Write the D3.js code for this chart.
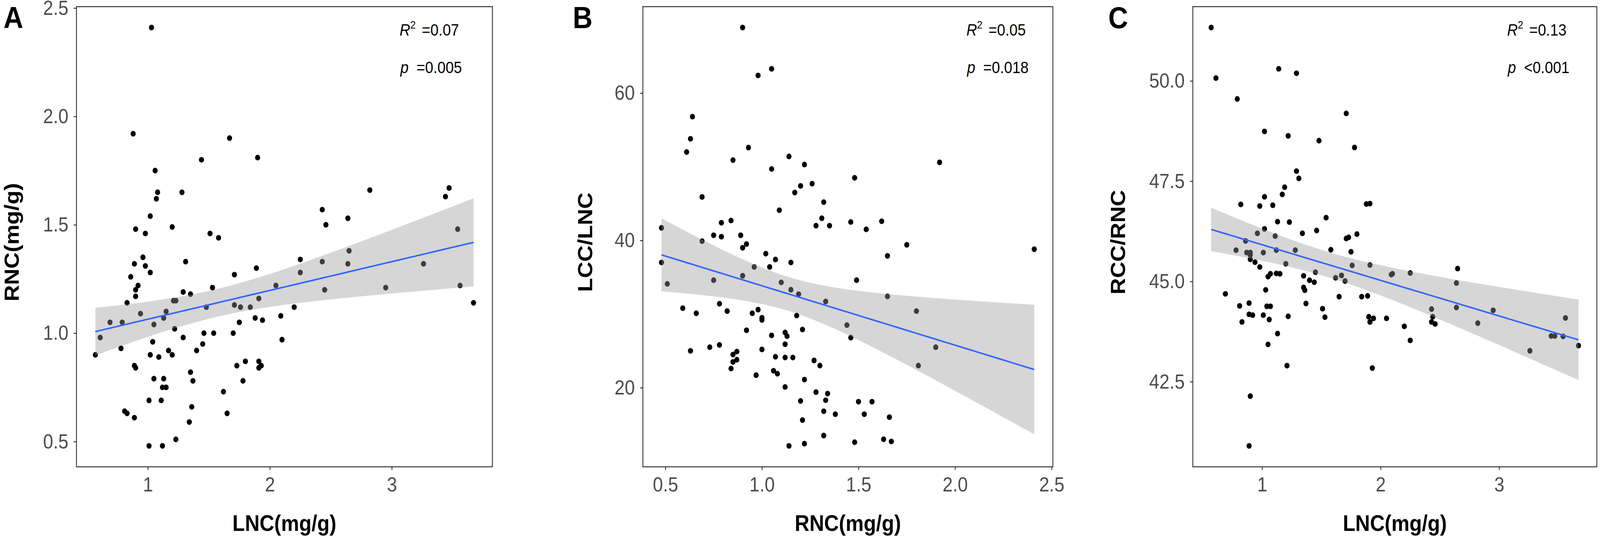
<!DOCTYPE html>
<html>
<head>
<meta charset="utf-8">
<script src="https://cdn.jsdelivr.net/npm/d3@7"></script>
<style>
  html, body { margin: 0; padding: 0; width: 100%; height: 100%; overflow: hidden; background: #fff; }
  #chart { width: 100vw; height: 100vh; }
  svg { display: block; font-family: "Liberation Sans", Arial, sans-serif; }
</style>
</head>
<body>
<div id="chart"></div>
<script>
// ---- data (n = 108 samples) ----
const lncA = [1.03,0.88,1.67,1.44,1.90,1.06,1.08,1.28,1.07,1.02,1.20,0.90,0.98,1.51,1.58,0.96,1.31,0.89,0.98,1.02,
  0.86,0.92,0.90,0.90,0.83,0.94,1.05,1.29,1.35,1.21,1.23,1.15,1.13,1.22,1.29,1.04,1.02,1.09,1.17,1.20,
  1.05,1.13,1.12,1.15,1.11,1.01,0.89,0.90,0.78,0.81,0.83,0.89,1.01,1.12,1.23,1.34,1.36,1.35,1.37,1.40,
  1.45,1.46,1.54,1.48,1.53,1.62,1.65,1.70,1.71,1.71,1.73,1.75,1.76,1.80,1.78,1.84,1.88,1.89,1.91,1.94,
  1.91,1.91,1.93,2.05,2.09,2.10,2.20,2.25,2.25,2.43,2.46,2.43,2.45,2.64,2.65,2.64,2.82,2.95,3.26,3.44,
  3.47,3.54,3.56,3.67,0.57,0.61,0.69,0.79];
const rncA = [2.41,1.92,1.90,1.80,1.81,1.75,1.65,1.65,1.62,1.54,1.49,1.48,1.46,1.46,1.44,1.35,1.33,1.32,1.31,1.28,
  1.26,1.22,1.20,1.17,1.14,1.09,1.04,1.19,1.18,1.15,1.15,1.10,1.07,1.02,0.98,0.96,0.90,0.89,0.92,0.90,
  0.79,0.79,0.75,0.75,0.69,0.69,0.85,0.84,0.93,0.64,0.63,0.61,0.48,0.48,0.51,0.59,0.66,0.82,0.78,0.92,
  0.95,1.00,1.00,1.12,1.21,0.73,0.63,1.00,1.13,1.27,0.85,1.05,1.12,0.87,0.78,1.12,1.07,1.30,1.16,1.06,
  0.87,0.84,0.85,1.22,1.08,0.97,1.12,1.34,1.28,1.57,1.50,1.33,1.20,1.53,1.38,1.32,1.66,1.21,1.32,1.63,
  1.67,1.48,1.22,1.14,0.90,0.98,1.05,1.05];

const rncB = [0.90,1.05,0.98,0.64,0.63,0.61,0.93,0.85,1.14,1.05,1.22,1.92,1.48,1.26,1.20,1.17,0.69,1.32,1.09,0.84,
  0.79,1.31,1.28,1.35,1.46,1.54,1.62,0.48,0.75,0.79,0.89,0.69,0.92,0.90,1.75,2.41,1.02,1.07,0.48,1.15,
  0.96,1.04,1.65,0.90,0.51,0.75,1.10,1.15,1.19,1.49,1.33,1.65,0.59,0.78,0.82,0.66,0.95,0.98,1.00,1.00,
  1.18,1.80,1.44,0.92,1.21,1.12,1.13,1.05,1.46,1.12,1.90,0.73,0.78,0.63,1.00,0.87,0.85,1.07,1.12,1.16,
  0.87,0.85,1.27,1.30,1.81,0.84,1.06,1.08,0.97,1.22,1.12,1.28,1.34,1.20,1.33,1.50,1.57,1.32,1.38,1.53,
  1.21,1.66,1.32,1.14,1.22,1.48,1.63,1.67];
const lccLncB = [68.9,63.3,62.4,56.8,53.8,52.0,52.6,50.9,51.4,49.7,50.3,50.6,48.5,47.7,47.4,46.5,45.9,45.2,44.1,42.7,
  42.4,43.0,42.0,42.0,42.5,41.5,42.6,41.7,40.7,40.5,40.7,39.9,39.5,39.0,39.4,38.8,38.2,37.4,37.0,37.0,
  36.4,36.4,37.9,35.2,34.1,34.6,34.3,33.3,32.7,34.6,31.7,32.4,30.8,31.4,30.4,30.1,30.1,30.6,29.5,29.2,
  29.8,30.4,28.5,27.8,27.9,27.5,27.0,27.1,26.8,25.9,25.5,25.5,25.8,25.0,25.2,24.9,24.5,24.2,24.1,24.1,
  23.8,23.5,23.7,23.0,23.0,22.6,22.3,21.9,21.7,21.1,20.1,19.4,19.2,18.2,18.3,18.1,18.1,16.8,16.4,16.4,
  15.6,16.0,13.5,12.1,12.4,12.6,13.0,12.7];

const lncC = [0.57,0.61,0.79,1.14,1.29,1.71,1.02,1.22,1.48,1.78,1.29,1.31,1.19,1.17,1.02,0.82,0.98,1.09,1.88,1.91,
  1.54,1.13,1.23,1.02,1.46,1.34,0.96,1.11,1.80,1.71,1.73,0.86,0.78,1.12,1.28,1.58,1.01,0.87,0.90,0.90,
  1.75,0.90,0.94,0.98,1.20,1.76,1.91,1.05,1.07,1.12,1.15,1.35,1.45,1.40,1.44,1.62,1.67,1.70,2.09,2.10,
  2.25,2.65,2.64,1.03,1.35,1.36,0.69,1.65,1.84,1.89,1.37,0.89,0.81,1.04,1.07,1.51,2.64,2.43,2.95,0.89,
  0.92,1.01,1.22,1.53,1.90,1.94,2.05,1.06,2.44,0.83,1.91,2.43,2.46,2.82,3.56,2.20,1.13,3.44,3.47,3.54,
  2.25,1.05,3.67,3.26,1.21,1.93,0.90,0.89];
const rccRncC = [51.33,50.07,49.55,50.30,50.19,49.19,48.74,48.63,48.51,48.34,47.75,47.57,47.35,47.17,47.11,46.92,46.88,46.90,46.93,46.94,
  46.59,46.49,46.48,46.31,46.27,46.20,46.20,46.13,46.18,46.07,46.10,46.01,45.78,45.78,45.78,45.79,45.72,45.72,45.72,45.66,
  45.74,45.55,45.48,45.36,45.44,45.40,45.41,45.12,45.19,45.20,45.19,45.14,45.23,45.03,44.98,45.09,45.15,45.01,45.17,45.19,
  45.21,45.32,44.96,44.79,44.85,44.78,44.69,44.62,44.62,44.64,44.45,44.46,44.39,44.38,44.38,44.32,44.35,44.31,44.28,44.18,
  44.16,44.16,44.13,44.11,44.12,44.08,44.08,44.05,44.12,43.99,43.99,43.99,43.94,43.96,44.09,43.88,43.70,43.64,43.64,43.63,
  43.53,43.43,43.40,43.27,42.90,42.84,42.14,40.90];

// tick labels
const xTicksA = [1, 2, 3];
const yTicksA = [0.5, 1.0, 1.5, 2.0, 2.5];
const xTicksB = [0.5, 1.0, 1.5, 2.0, 2.5];
const yTicksB = [20, 40, 60];
const xTicksC = [1, 2, 3];
const yTicksC = [42.5, 45.0, 47.5, 50.0];

// titles and stats
const panelLetters = ["A", "B", "C"];
const xTitles = ["LNC(mg/g)", "RNC(mg/g)", "LNC(mg/g)"];
const yTitles = ["RNC(mg/g)", "LCC/LNC", "RCC/RNC"];
const r2Labels = ["=0.07", "=0.05", "=0.13"];
const pLabels = ["=0.005", "=0.018", "<0.001"];

// ---- layout ----
const W = 4562, H = 1371;
const tCrit = 1.983; // t(0.975, df = 106)

const panels = [
  { xs: lncA, ys: rncA, xTicks: xTicksA, yTicks: yTicksA, xFmt: d3.format("d"), yFmt: d3.format(".1f"),
    left: 218, right: 1404, letterX: 10, yTitleX: 53, noteAt: 0.777 },
  { xs: rncB, ys: lccLncB, xTicks: xTicksB, yTicks: yTicksB, xFmt: d3.format(".1f"), yFmt: d3.format("d"),
    left: 1833, right: 3002, letterX: 1633, yTitleX: 1688, noteAt: 0.789 },
  { xs: lncC, ys: rccRncC, xTicks: xTicksC, yTicks: yTicksC, xFmt: d3.format("d"), yFmt: d3.format(".1f"),
    left: 3401, right: 4553, letterX: 3160, yTitleX: 3208, noteAt: 0.778 }
];
const plotTop = 17, plotBottom = 1194;

// scale the drawing to whatever the viewport is
const svg = d3.select("#chart").append("svg")
  .attr("width", "100%")
  .attr("height", "100%")
  .attr("viewBox", `0 0 ${W} ${H}`)
  .attr("preserveAspectRatio", "none");

svg.append("rect").attr("width", W).attr("height", H).attr("fill", "#fff");

function expand(ext) {
  const pad = (ext[1] - ext[0]) * 0.05;
  return [ext[0] - pad, ext[1] + pad];
}

// ordinary least squares with 95% confidence band, like geom_smooth(method = "lm")
function lmFit(xs, ys) {
  const n = xs.length;
  const mx = d3.mean(xs), my = d3.mean(ys);
  let sxx = 0, sxy = 0;
  xs.forEach((x, i) => { sxx += (x - mx) ** 2; sxy += (x - mx) * (ys[i] - my); });
  const b = sxy / sxx, a = my - b * mx;
  let sse = 0;
  xs.forEach((x, i) => { sse += (ys[i] - a - b * x) ** 2; });
  const s = Math.sqrt(sse / (n - 2));
  const [x0, x1] = d3.extent(xs);
  return d3.range(80).map(k => {
    const x = x0 + (x1 - x0) * k / 79;
    const fit = a + b * x;
    const se = s * Math.sqrt(1 / n + (x - mx) ** 2 / sxx);
    return { x, fit, lo: fit - tCrit * se, hi: fit + tCrit * se };
  });
}

panels.forEach((p, i) => {
  const x = d3.scaleLinear().domain(expand(d3.extent(p.xs))).range([p.left, p.right]);
  const y = d3.scaleLinear().domain(expand(d3.extent(p.ys))).range([plotBottom, plotTop]);
  const g = svg.append("g");

  // points
  g.append("g").selectAll("circle")
    .data(p.xs.map((v, k) => [v, p.ys[k]]))
    .join("circle")
    .attr("cx", d => x(d[0]))
    .attr("cy", d => y(d[1]))
    .attr("r", 7.3)
    .attr("fill", "#000");

  // regression band + line
  const fit = lmFit(p.xs, p.ys);
  g.append("path")
    .datum(fit)
    .attr("d", d3.area().x(d => x(d.x)).y0(d => y(d.lo)).y1(d => y(d.hi)))
    .attr("fill", "#999999")
    .attr("fill-opacity", 0.4);
  g.append("path")
    .datum(fit)
    .attr("d", d3.line().x(d => x(d.x)).y(d => y(d.fit)))
    .attr("fill", "none")
    .attr("stroke", "#3366FF")
    .attr("stroke-width", 4);

  // border
  g.append("rect")
    .attr("x", p.left).attr("y", plotTop)
    .attr("width", p.right - p.left).attr("height", plotBottom - plotTop)
    .attr("fill", "none")
    .attr("stroke", "#333")
    .attr("stroke-width", 2.5);

  // axes
  const xAxis = g.append("g")
    .attr("transform", `translate(0,${plotBottom})`)
    .call(d3.axisBottom(x).tickValues(p.xTicks).tickFormat(p.xFmt).tickSize(8).tickPadding(18));
  const yAxis = g.append("g")
    .attr("transform", `translate(${p.left},0)`)
    .call(d3.axisLeft(y).tickValues(p.yTicks).tickFormat(p.yFmt).tickSize(8).tickPadding(15));
  [xAxis, yAxis].forEach(ax => {
    ax.select(".domain").remove();
    ax.selectAll(".tick line").attr("stroke", "#333").attr("stroke-width", 2.5);
    ax.selectAll(".tick text")
      .attr("fill", "#4d4d4d")
      .style("font-size", "52px")
      .style("font-family", "'Liberation Sans', Arial, sans-serif");
  });

  // axis titles
  g.append("text")
    .attr("x", (p.left + p.right) / 2)
    .attr("y", 1358)
    .attr("text-anchor", "middle")
    .style("font-size", "58px")
    .style("font-weight", "bold")
    .text(xTitles[i]);
  g.append("text")
    .attr("transform", `translate(${p.yTitleX},${(plotTop + plotBottom) / 2 + 14}) rotate(-90)`)
    .attr("text-anchor", "middle")
    .style("font-size", "58px")
    .style("font-weight", "bold")
    .text(yTitles[i]);

  // panel letter
  g.append("text")
    .attr("x", p.letterX)
    .attr("y", 72)
    .style("font-size", "78px")
    .style("font-weight", "bold")
    .text(panelLetters[i]);

  // stats annotation
  const ax0 = p.left + (p.right - p.left) * p.noteAt;
  const r2 = g.append("text").attr("x", ax0).attr("y", 91).style("font-size", "42px");
  r2.append("tspan").style("font-style", "italic").text("R");
  r2.append("tspan").attr("dy", -18).style("font-size", "28px").text("2");
  g.append("text").attr("x", ax0 + 63).attr("y", 91).style("font-size", "42px").text(r2Labels[i]);

  g.append("text").attr("x", ax0 + 2).attr("y", 187)
    .style("font-size", "42px").style("font-style", "italic").text("p");
  g.append("text").attr("x", ax0 + 48).attr("y", 187).style("font-size", "42px").text(pLabels[i]);
});
</script>
</body>
</html>
